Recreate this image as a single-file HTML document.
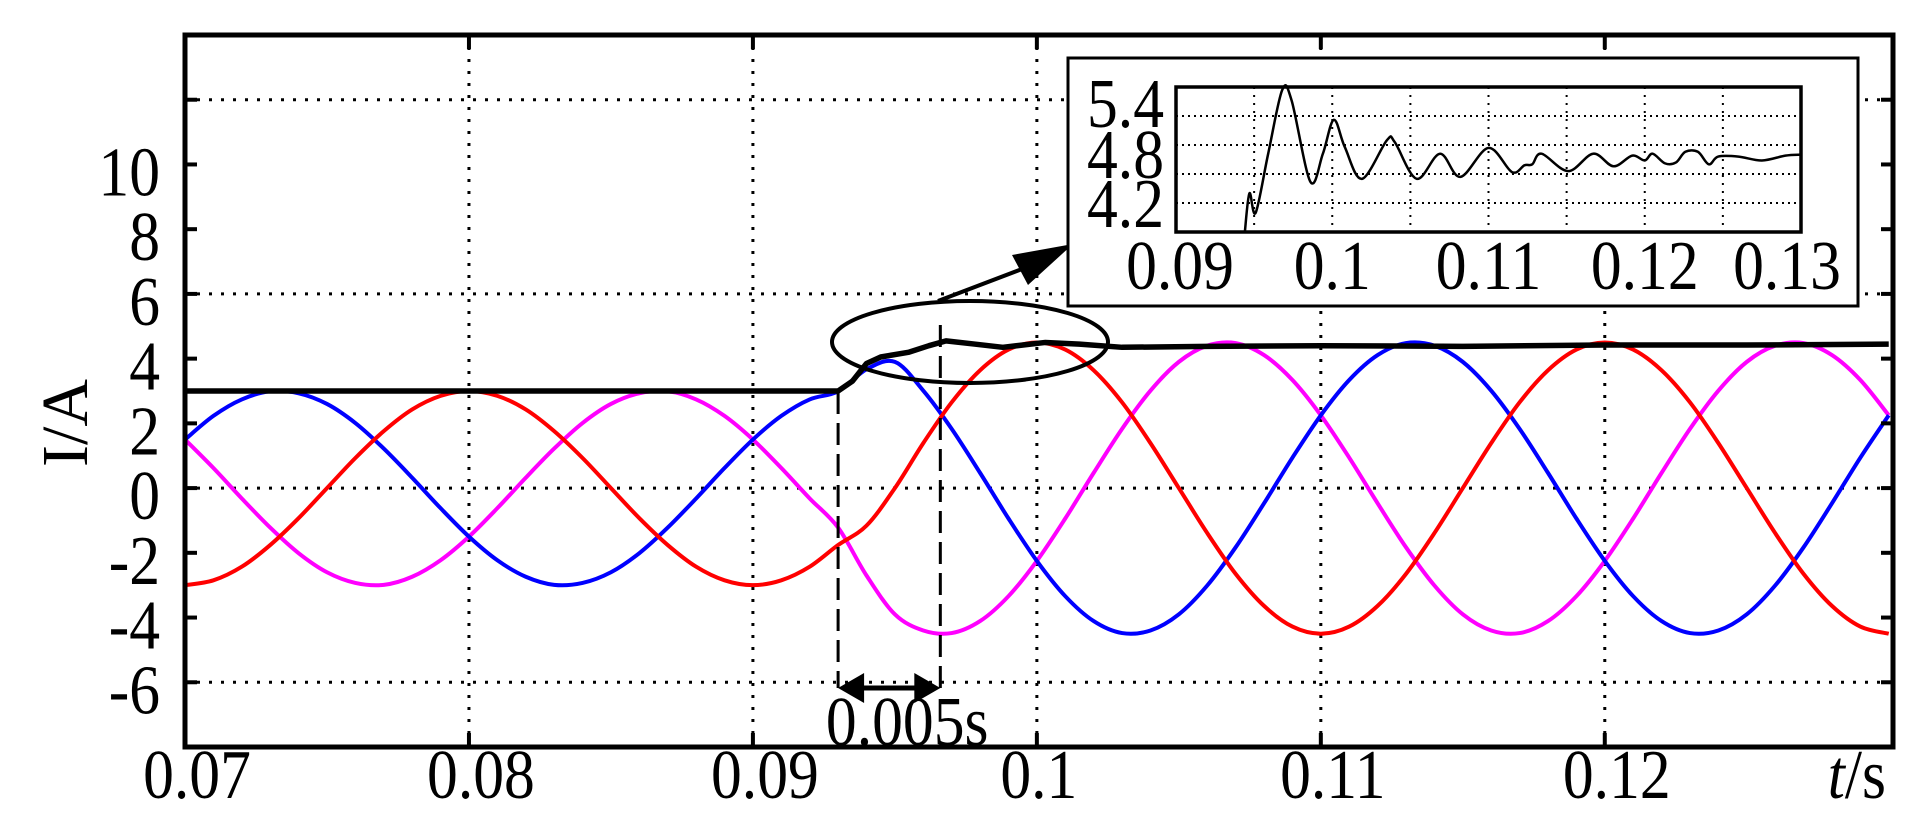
<!DOCTYPE html>
<html><head><meta charset="utf-8"><style>
html,body{margin:0;padding:0;background:#fff;}
svg{display:block;}
text{font-family:"Liberation Serif",serif;fill:#000;}
</style></head><body>
<svg id="chart" width="1920" height="838" viewBox="0 0 1920 838" xmlns="http://www.w3.org/2000/svg">
<g id="main-grid"></g>
<g id="main-series"></g>
<g id="main-axes"></g>
<g id="annot"></g>
<g id="inset"></g>
</svg>
<script>
// ---- main chart data ----
const timeStart = 0.07, timeStep = 0.001;
const phaseA = [-3,-2.85,-2.43,-1.76,-0.93,0,0.93,1.76,2.43,2.85,3,2.85,2.43,1.76,0.93,0,-0.93,-1.76,-2.43,-2.85,-3,-2.85,-2.43,-1.76,-1.16,0,1.39,2.65,3.64,4.28,4.5,4.28,3.64,2.65,1.39,0,-1.39,-2.65,-3.64,-4.28,-4.5,-4.28,-3.64,-2.65,-1.39,0,1.39,2.65,3.64,4.28,4.5,4.28,3.64,2.65,1.39,0,-1.39,-2.65,-3.64,-4.28,-4.5];
const phaseB = [1.5,2.23,2.74,2.99,2.93,2.6,2.01,1.22,0.32,-0.62,-1.5,-2.23,-2.74,-2.99,-2.93,-2.6,-2.01,-1.22,-0.32,0.62,1.5,2.23,2.74,2.99,3.67,3.9,3.01,1.83,0.47,-0.94,-2.25,-3.34,-4.11,-4.48,-4.4,-3.9,-3.01,-1.83,-0.47,0.94,2.25,3.34,4.11,4.48,4.4,3.9,3.01,1.83,0.47,-0.94,-2.25,-3.34,-4.11,-4.48,-4.4,-3.9,-3.01,-1.83,-0.47,0.94,2.25];
const phaseC = [1.5,0.62,-0.32,-1.22,-2.01,-2.6,-2.93,-2.99,-2.74,-2.23,-1.5,-0.62,0.32,1.22,2.01,2.6,2.93,2.99,2.74,2.23,1.5,0.62,-0.32,-1.22,-2.7,-3.9,-4.4,-4.48,-4.11,-3.34,-2.25,-0.94,0.47,1.83,3.01,3.9,4.4,4.48,4.11,3.34,2.25,0.94,-0.47,-1.83,-3.01,-3.9,-4.4,-4.48,-4.11,-3.34,-2.25,-0.94,0.47,1.83,3.01,3.9,4.4,4.48,4.11,3.34,2.25];
const ampT = [0.07,0.093,0.0935,0.094,0.0945,0.0955,0.0962,0.0968,0.0978,0.0988,0.1003,0.1015,0.103,0.106,0.11,0.115,0.12,0.125,0.13];
const ampV = [3,3,3.3,3.85,4.05,4.2,4.4,4.55,4.45,4.35,4.5,4.45,4.35,4.38,4.4,4.38,4.42,4.42,4.45];
const xTicks = [0.07,0.08,0.09,0.1,0.11,0.12];
const xTickLabels = ["0.07","0.08","0.09","0.1","0.11","0.12"];
const yTicks = [-6,-4,-2,0,2,4,6,8,10];
const yTickLabels = ["-6","-4","-2","0","2","4","6","8","10"];
const yGrid = [-6,0,6,12];
// ---- inset data ----
const insetT = [0.0944,0.0947,0.0951,0.0959,0.0968,0.0974,0.0986,0.0994,0.1001,0.1008,0.1019,0.1035,0.104,0.1054,0.1069,0.1082,0.11,0.1115,0.1123,0.1128,0.1134,0.1151,0.1167,0.118,0.1192,0.12,0.1205,0.1213,0.122,0.1226,0.1234,0.1241,0.1247,0.126,0.1275,0.129,0.13];
const insetV = [3.89,4.3,4.1,4.71,5.37,5.26,4.42,4.71,5.06,4.78,4.45,4.85,4.83,4.45,4.71,4.47,4.77,4.52,4.59,4.6,4.71,4.53,4.71,4.58,4.69,4.64,4.71,4.61,4.62,4.73,4.73,4.6,4.68,4.68,4.64,4.69,4.7];
const insetXTicks = [0.09,0.1,0.11,0.12,0.13];
const insetXLabels = ["0.09","0.1","0.11","0.12","0.13"];
const insetYLabels = ["5.4","4.8","4.2"];

const NS="http://www.w3.org/2000/svg";
function mk(tag, parent, attrs){const e=document.createElementNS(NS,tag);for(const k in attrs)e.setAttribute(k,attrs[k]);parent.appendChild(e);return e;}
const L=185,R=1893,T=35,B=747,T0=0.07,T1=0.13015,V0=-8,V1=14;
const X=t=>L+(t-T0)/(T1-T0)*(R-L);
const Y=v=>B-(v-V0)/(V1-V0)*(B-T);
function smooth(pts){let d=`M${pts[0][0]},${pts[0][1]}`;for(let i=0;i<pts.length-1;i++){const p0=pts[Math.max(0,i-1)],p1=pts[i],p2=pts[i+1],p3=pts[Math.min(pts.length-1,i+2)];d+=` C${p1[0]+(p2[0]-p0[0])/6},${p1[1]+(p2[1]-p0[1])/6} ${p2[0]-(p3[0]-p1[0])/6},${p2[1]-(p3[1]-p1[1])/6} ${p2[0]},${p2[1]}`;}return d;}

const grid=document.getElementById('main-grid');
xTicks.slice(1).forEach(t=>{const l=mk('line',grid,{x1:X(t),x2:X(t),y1:T,y2:B,stroke:'#000','stroke-width':3,'stroke-dasharray':'3,9'});

});
yGrid.forEach(v=>{const l=mk('line',grid,{x1:L,x2:R,y1:Y(v),y2:Y(v),stroke:'#000','stroke-width':3,'stroke-dasharray':'3,9'});

});

const ser=document.getElementById('main-series');
[[phaseC,'#ff00ff','phase-c-current'],[phaseB,'#0000ff','phase-b-current'],[phaseA,'#ff0000','phase-a-current']].forEach(([arr,c,n])=>{
 const pts=arr.map((v,i)=>[X(timeStart+i*timeStep),Y(v)]);
 const p=mk('path',ser,{d:smooth(pts),fill:'none',stroke:c,'stroke-width':4});
 
 
});
const ampPts=ampT.map((t,i)=>[X(t),Y(ampV[i])]);
let ad=`M${ampPts[0][0]},${ampPts[0][1]}`;ampPts.slice(1).forEach(p=>ad+=` L${p[0]},${p[1]}`);
const amp=mk('path',ser,{d:ad,fill:'none',stroke:'#000','stroke-width':5.5,'stroke-linejoin':'round'});



const ax=document.getElementById('main-axes');
const frame=mk('rect',ax,{x:L,y:T,width:R-L,height:B-T,fill:'none',stroke:'#000','stroke-width':5});


const texts=[];
xTicks.forEach((t,i)=>{
 mk('line',ax,{x1:X(t),x2:X(t),y1:B,y2:B-14,stroke:'#000','stroke-width':4});
 mk('line',ax,{x1:X(t),x2:X(t),y1:T,y2:T+14,stroke:'#000','stroke-width':4});
 const tx=mk('text',ax,{x:X(t)+(t===0.1?2:12),y:798,'font-size':70,'text-anchor':'middle'});tx.textContent=xTickLabels[i];
 
 
 texts.push(tx);
});
yTicks.concat([12]).forEach(v=>{
 mk('line',ax,{x1:L,x2:L+12,y1:Y(v),y2:Y(v),stroke:'#000','stroke-width':4});
 mk('line',ax,{x1:R,x2:R-12,y1:Y(v),y2:Y(v),stroke:'#000','stroke-width':4});
});
yTicks.forEach((v,i)=>{
 const tx=mk('text',ax,{x:160,y:Y(v)+31,'font-size':70,'text-anchor':'end'});tx.textContent=yTickLabels[i];
 
 
 texts.push(tx);
});
const xt=mk('text',ax,{x:1886,y:798,'font-size':70,'text-anchor':'end'});
xt.innerHTML='<tspan font-style="italic">t</tspan>/s';


texts.push(xt);
const yt=mk('text',ax,{x:0,y:0,'font-size':66,'text-anchor':'middle',transform:'translate(87,423) rotate(-90)'});
yt.textContent='I/A';



// annotations
const an=document.getElementById('annot');
const el=mk('ellipse',an,{cx:970,cy:342,rx:138,ry:41,fill:'none',stroke:'#000','stroke-width':4});


const ar=mk('line',an,{x1:938,y1:301,x2:1030,y2:266,stroke:'#000','stroke-width':4});


mk('polygon',an,{points:'1073,244 1012,255 1028,285',fill:'#000'});
const xd1=X(0.093),xd2=X(0.0966);
const d1=mk('line',an,{x1:xd1,x2:xd1,y1:392,y2:688,stroke:'#000','stroke-width':3,'stroke-dasharray':'22,9'});


const d2=mk('line',an,{x1:xd2,x2:xd2,y1:325,y2:688,stroke:'#000','stroke-width':3,'stroke-dasharray':'22,9'});


mk('line',an,{x1:xd1+20,x2:xd2-20,y1:688,y2:688,stroke:'#000','stroke-width':5});
mk('polygon',an,{points:`${xd1},688 ${xd1+26},673 ${xd1+26},703`,fill:'#000'});
mk('polygon',an,{points:`${xd2},688 ${xd2-26},673 ${xd2-26},703`,fill:'#000'});
const dl=mk('text',an,{x:(xd1+xd2)/2+18,y:745,'font-size':70,'text-anchor':'middle'});dl.textContent='0.005s';


texts.push(dl);

// inset
const ins=document.getElementById('inset');
const ob=mk('rect',ins,{x:1068,y:58,width:790,height:248,fill:'#fff',stroke:'#000','stroke-width':3});


const iL=1176,iR=1801,iT=87,iB=232,iT0=0.09,iT1=0.13,iV0=3.9,iV1=5.4;
const IX=t=>iL+(t-iT0)/(iT1-iT0)*(iR-iL);
const IY=v=>iB-(v-iV0)/(iV1-iV0)*(iB-iT);
for(let k=1;k<8;k++){const x=IX(0.09+k*0.005);mk('line',ins,{x1:x,x2:x,y1:iT,y2:iB,stroke:'#000','stroke-width':2,'stroke-dasharray':'2,6'});}
[4.2,4.5,4.8,5.1].forEach(v=>mk('line',ins,{x1:iL,x2:iR,y1:IY(v),y2:IY(v),stroke:'#000','stroke-width':2,'stroke-dasharray':'2,4'}));
const ipts=insetT.map((t,i)=>[IX(t),IY(insetV[i])]);
const ic=mk('path',ins,{d:smooth(ipts),fill:'none',stroke:'#000','stroke-width':2.5});


mk('rect',ins,{x:iL,y:iT,width:iR-iL,height:iB-iT,fill:'none',stroke:'#000','stroke-width':3.5});
[102,153,202].forEach((cy,i)=>{const tx=mk('text',ins,{x:1164,y:cy+25,'font-size':70,'text-anchor':'end'});tx.textContent=insetYLabels[i];
 
 
 texts.push(tx);});
insetXTicks.forEach((t,i)=>{const tx=mk('text',ins,{x:IX(t)+(i===0?4:(i===4?-14:0)),y:289,'font-size':70,'text-anchor':'middle'});tx.textContent=insetXLabels[i];
 
 
 texts.push(tx);});
// condense glyphs horizontally (tall narrow serif look)
texts.forEach(tx=>{const w=tx.getComputedTextLength();if(w>0){tx.setAttribute('textLength',(w*0.88).toFixed(1));tx.setAttribute('lengthAdjust','spacingAndGlyphs');}});
</script>
</body></html>
